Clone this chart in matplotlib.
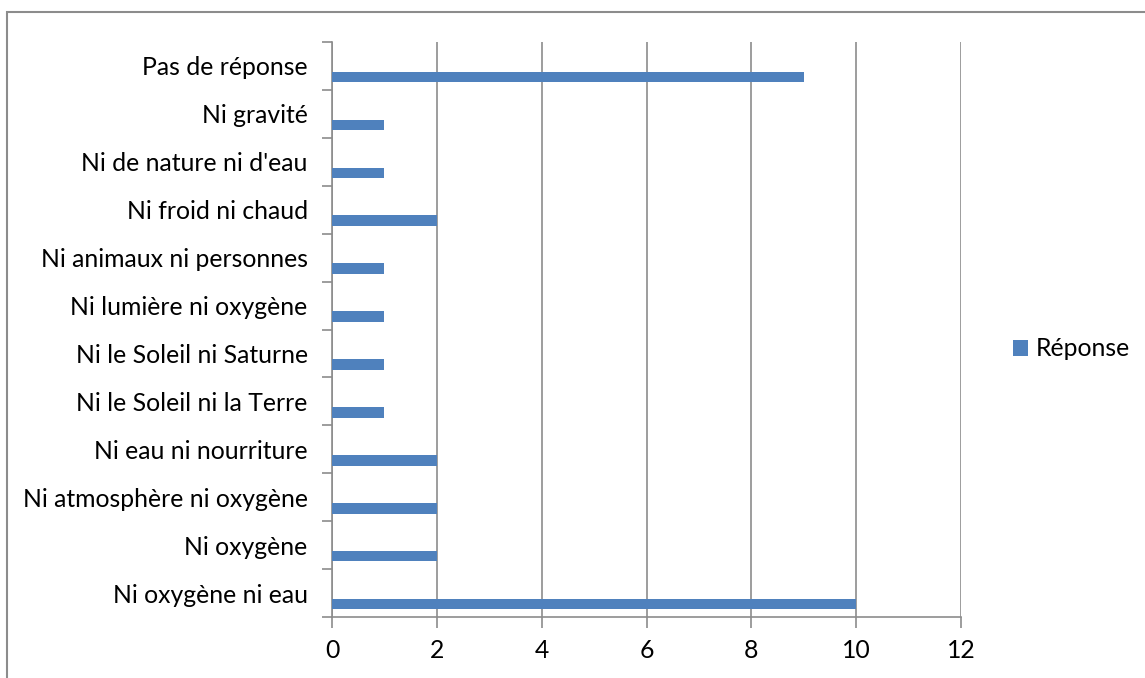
import numpy as np
import matplotlib
matplotlib.use('Agg')
import matplotlib.pyplot as plt
from matplotlib.patches import Rectangle

categories = ['Ni oxygène ni eau', 'Ni oxygène', 'Ni atmosphère ni oxygène',
              'Ni eau ni nourriture', 'Ni le Soleil ni la Terre',
              'Ni le Soleil ni Saturne', 'Ni lumière ni oxygène',
              'Ni animaux ni personnes', 'Ni froid ni chaud',
              'Ni de nature ni d\'eau', 'Ni gravité', 'Pas de réponse']
values = [10, 2, 2, 2, 1, 1, 1, 1, 2, 1, 1, 9]
series_name = 'Réponse'
x_ticks = [0, 2, 4, 6, 8, 10, 12]

plt.rcParams['font.family'] = ['Lato', 'DejaVu Sans']
BLUE = '#4F81BD'
GRAY = '#8C8C8C'
FS = 17.8

W, H = 1145, 678
fig = plt.figure(figsize=(W / 100, H / 100), dpi=100)
ax = fig.add_axes([332 / W, 1 - 617 / H, (961 - 332) / W, (617 - 42) / H])

n = len(categories)
y = np.arange(n)
ax.barh(y - 0.23, values, height=0.22, color=BLUE, label=series_name, zorder=3)

ax.set_xlim(0, 12)
ax.set_ylim(-0.5, n - 0.5)
ax.set_xticks(x_ticks)
ax.set_xticklabels([str(t) for t in x_ticks], fontsize=FS)
ax.set_yticks(y)
ax.set_yticklabels(categories, fontsize=FS)
ax.tick_params(axis='y', length=0, pad=17.5)
ax.set_yticks(np.arange(n + 1) - 0.5, minor=True)
ax.tick_params(axis='y', which='minor', length=7, color=GRAY, width=1.2)
ax.tick_params(axis='x', length=8, color=GRAY, width=1.2, pad=8)

ax.grid(axis='x', color=GRAY, linewidth=1.2, zorder=0)
for s in ['top', 'right']:
    ax.spines[s].set_visible(False)
for s in ['left', 'bottom']:
    ax.spines[s].set_color(GRAY)
    ax.spines[s].set_linewidth(1.2)

leg = fig.legend(loc='center left', bbox_to_anchor=(1013 / W, 1 - 349 / H),
                 frameon=False, fontsize=FS, handlelength=0.6, handleheight=0.6,
                 handletextpad=0.3, borderaxespad=0, borderpad=0)

fig.patches.append(Rectangle((6.5 / W, -0.1), 1.2, 1.1 - 12.5 / H,
                             transform=fig.transFigure, fill=False,
                             edgecolor=GRAY, linewidth=1.5))

fig.savefig('out.png', dpi=100)
